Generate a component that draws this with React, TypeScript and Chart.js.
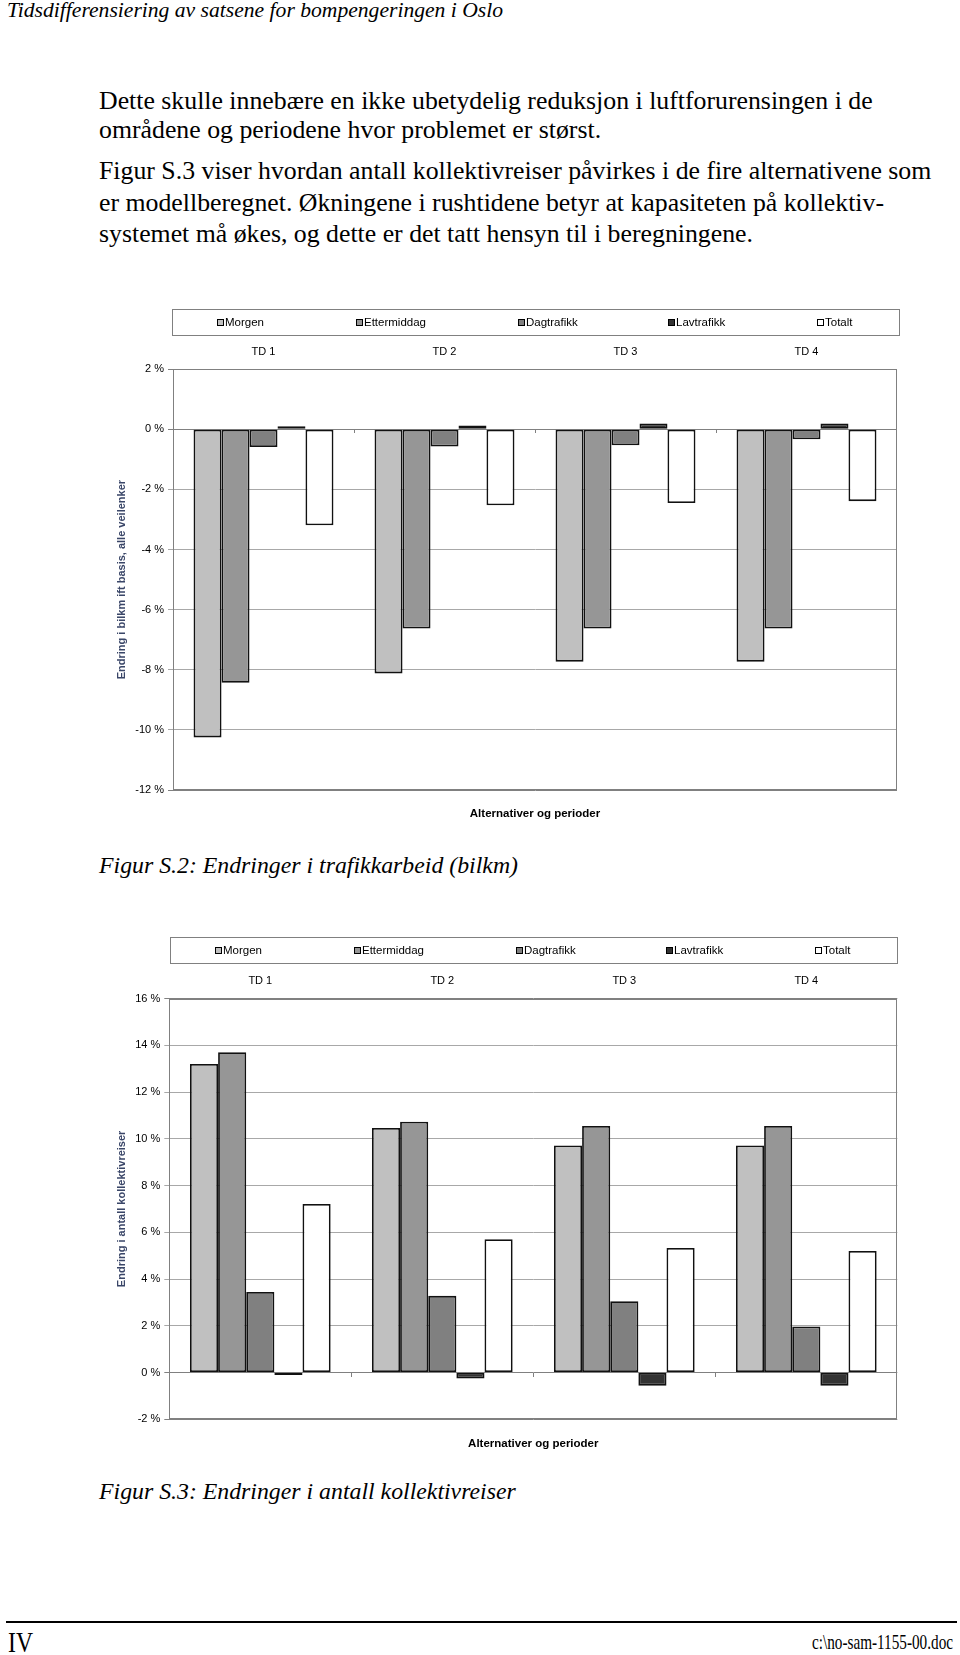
import React, { useEffect, useRef } from "react";
import { Chart, registerables } from "chart.js";

Chart.register(...registerables);

// ---------- data ----------
const seriesNames = ["Morgen", "Ettermiddag", "Dagtrafikk", "Lavtrafikk", "Totalt"];
const seriesColors = ["#c0c0c0", "#969696", "#808080", "#333333", "#ffffff"];
const categories = ["TD 1", "TD 2", "TD 3", "TD 4"];
const xAxisTitle = "Alternativer og perioder";

// Figur S.2: Endringer i trafikkarbeid (bilkm), %
const s2Morgen = [-10.25, -8.12, -7.73, -7.73];
const s2Ettermiddag = [-8.43, -6.63, -6.63, -6.63];
const s2Dagtrafikk = [-0.59, -0.57, -0.53, -0.33];
const s2Lavtrafikk = [0.1, 0.13, 0.19, 0.19];
const s2Totalt = [-3.19, -2.53, -2.45, -2.39];
const s2YTitle = "Endring i bilkm ift basis, alle veilenker";
const s2YMin = -12;
const s2YMax = 2;

// Figur S.3: Endringer i antall kollektivreiser, %
const s3Morgen = [13.2, 10.46, 9.71, 9.71];
const s3Ettermiddag = [13.7, 10.73, 10.55, 10.55];
const s3Dagtrafikk = [3.45, 3.28, 3.05, 1.97];
const s3Lavtrafikk = [-0.11, -0.26, -0.56, -0.56];
const s3Totalt = [7.21, 5.7, 5.33, 5.2];
const s3YTitle = "Endring i antall kollektivreiser";
const s3YMin = -2;
const s3YMax = 16;

const yStep = 2;

// ---------- layout ----------
const SANS = '"Liberation Sans", Arial, sans-serif';
const SERIF = '"Liberation Serif", "Times New Roman", serif';
const legendKeyOffsets = [45, 184, 345.5, 495.5, 644.5];

type Spec = {
  canvasTop: number;
  canvasHeight: number;
  plot: { left: number; top: number; right: number; bottom: number };
  legend: { left: number; top: number; right: number; bottom: number };
  tdY: number;
  xTitleY: number;
  yMin: number;
  yMax: number;
  yTitle: string;
  values: number[][];
};

const spec2: Spec = {
  canvasTop: 290,
  canvasHeight: 545,
  plot: { left: 173, top: 369.2, right: 897, bottom: 790 },
  legend: { left: 172, top: 308.5, right: 899, bottom: 335 },
  tdY: 352,
  xTitleY: 814,
  yMin: s2YMin,
  yMax: s2YMax,
  yTitle: s2YTitle,
  values: [s2Morgen, s2Ettermiddag, s2Dagtrafikk, s2Lavtrafikk, s2Totalt],
};

const spec3: Spec = {
  canvasTop: 920,
  canvasHeight: 545,
  plot: { left: 169.3, top: 998.5, right: 897.3, bottom: 1419.3 },
  legend: { left: 170, top: 937.3, right: 897, bottom: 963.3 },
  tdY: 981,
  xTitleY: 1444,
  yMin: s3YMin,
  yMax: s3YMax,
  yTitle: s3YTitle,
  values: [s3Morgen, s3Ettermiddag, s3Dagtrafikk, s3Lavtrafikk, s3Totalt],
};

function makeDecor(spec: Spec) {
  return {
    id: "decor",
    afterDraw(chart: any) {
      const ctx = chart.ctx as CanvasRenderingContext2D;
      const a = chart.chartArea;
      const xs = chart.scales.x;
      const ys = chart.scales.y;
      const off = spec.canvasTop;
      ctx.save();
      // plot area border
      ctx.strokeStyle = "#808080";
      ctx.lineWidth = 1;
      const L = Math.round(a.left) + 0.5;
      const R = Math.round(a.right) - 0.5;
      const T = Math.round(a.top) + 0.5;
      const B = Math.round(a.bottom) - 0.5;
      ctx.strokeRect(L, T, R - L, B - T);
      // category tick marks on the zero line
      const y0 = Math.round(ys.getPixelForValue(0));
      for (let k = 1; k < categories.length; k++) {
        const x = Math.round(a.left + ((a.right - a.left) * k) / categories.length) + 0.5;
        ctx.beginPath();
        ctx.moveTo(x, y0);
        ctx.lineTo(x, y0 + 4);
        ctx.stroke();
      }
      // category labels (top)
      ctx.fillStyle = "#000";
      ctx.font = `11px ${SANS}`;
      ctx.textAlign = "center";
      ctx.textBaseline = "middle";
      categories.forEach((c, i) => ctx.fillText(c, xs.getPixelForValue(i), spec.tdY - off));
      // x axis title
      ctx.font = `bold 11.5px ${SANS}`;
      ctx.fillText(xAxisTitle, (a.left + a.right) / 2, spec.xTitleY - off);
      // legend box
      const ll = Math.round(spec.legend.left);
      const lr = Math.round(spec.legend.right);
      const lt = Math.round(spec.legend.top - off);
      const lb = Math.round(spec.legend.bottom - off);
      ctx.fillStyle = "#fff";
      ctx.fillRect(ll, lt, lr - ll, lb - lt);
      ctx.strokeStyle = "#808080";
      ctx.strokeRect(ll + 0.5, lt + 0.5, lr - ll, lb - lt);
      const cy = (lt + lb) / 2 + 0.5;
      ctx.font = `11.5px ${SANS}`;
      ctx.textAlign = "left";
      chart.data.datasets.forEach((ds: any, i: number) => {
        const kx = Math.round(ll + legendKeyOffsets[i]);
        const ky = Math.round(cy - 4);
        ctx.fillStyle = ds.backgroundColor;
        ctx.fillRect(kx, ky, 7, 7);
        ctx.strokeStyle = "#000";
        ctx.strokeRect(kx + 0.5, ky + 0.5, 6, 6);
        ctx.fillStyle = "#000";
        ctx.fillText(ds.label, kx + 8, cy);
      });
      ctx.restore();
    },
  };
}

function BarChart({ spec }: { spec: Spec }) {
  const ref = useRef<HTMLCanvasElement>(null);
  useEffect(() => {
    const canvas = ref.current!;
    const titleFontSize = 11;
    const chart = new Chart(canvas, {
      type: "bar",
      data: {
        labels: categories,
        datasets: spec.values.map((v, i) => ({
          label: seriesNames[i],
          data: v,
          backgroundColor: seriesColors[i],
          borderColor: "#111",
          borderWidth: 1.8,
          borderSkipped: false,
          categoryPercentage: 0.773,
          barPercentage: 1,
        })),
      },
      options: {
        responsive: false,
        animation: false,
        devicePixelRatio: 1,
        layout: {
          padding: {
            left: 0,
            right: 960 - spec.plot.right,
            top: spec.plot.top - spec.canvasTop,
            bottom: spec.canvasTop + spec.canvasHeight - spec.plot.bottom,
          },
        },
        plugins: { legend: { display: false }, tooltip: { enabled: false }, title: { display: false } },
        scales: {
          x: {
            position: "top",
            grid: { display: false },
            border: { display: false },
            ticks: { display: false },
            afterFit: (s: any) => {
              s.height = 0;
            },
          },
          y: {
            min: spec.yMin,
            max: spec.yMax,
            ticks: {
              stepSize: yStep,
              callback: (v: any) => `${v} %`,
              color: "#000",
              font: { family: SANS, size: 11 },
              padding: 4,
            },
            grid: {
              color: (c: any) =>
                c.tick && (c.tick.value === 0 || c.tick.value === spec.yMin || c.tick.value === spec.yMax)
                  ? "#808080"
                  : "#a8a8a8",
              tickLength: 5,
              lineWidth: 1,
            },
            border: { color: "#808080", width: 1 },
            title: {
              display: true,
              text: spec.yTitle,
              color: "#3a4668",
              font: { family: SANS, size: titleFontSize, weight: "bold" },
              padding: { top: 122 - (titleFontSize * 1.2) / 2, bottom: 0 },
            },
            afterFit: (s: any) => {
              s.width = spec.plot.left;
            },
          },
        },
      } as any,
      plugins: [makeDecor(spec)],
    });
    return () => chart.destroy();
  }, [spec]);
  return (
    <canvas
      ref={ref}
      width={960}
      height={spec.canvasHeight}
      style={{ position: "absolute", left: 0, top: spec.canvasTop, width: 960, height: spec.canvasHeight }}
    />
  );
}

// ---------- text helpers ----------
const measurer = document.createElement("canvas").getContext("2d")!;
function measure(text: string, font: string, size: number) {
  measurer.font = font;
  const m = measurer.measureText(text) as any;
  const a = m.fontBoundingBoxAscent ?? size * 0.891;
  const d = m.fontBoundingBoxDescent ?? size * 0.216;
  return { w: m.width as number, a: a as number, d: d as number };
}
function fontOf(size: number, italic: boolean, bold: boolean, family: string) {
  return `${italic ? "italic " : ""}${bold ? "bold " : ""}${size}px ${family}`;
}
function scaleFor(text: string, size: number, italic: boolean, bold: boolean, family: string, width: number) {
  return width / measure(text, fontOf(size, italic, bold, family), size).w;
}

type LineProps = {
  text: string;
  x: number;
  baseline: number;
  size: number;
  italic?: boolean;
  bold?: boolean;
  family?: string;
  width?: number;
  scale?: number;
  align?: "left" | "right";
};
function Line({ text, x, baseline, size, italic = false, bold = false, family = SERIF, width, scale, align = "left" }: LineProps) {
  const m = measure(text, fontOf(size, italic, bold, family), size);
  const sx = scale ?? (width ? width / m.w : 1);
  const lh = Math.round(size * 1.6);
  const top = baseline - ((lh - (m.a + m.d)) / 2 + m.a);
  const left = align === "right" ? x - m.w * sx : x;
  return (
    <div
      style={{
        position: "absolute",
        left,
        top,
        fontFamily: family,
        fontSize: size,
        fontStyle: italic ? "italic" : "normal",
        fontWeight: bold ? "bold" : "normal",
        lineHeight: `${lh}px`,
        whiteSpace: "pre",
        transform: `scaleX(${sx})`,
        transformOrigin: "0 0",
        color: "#000",
      }}
    >
      {text}
    </div>
  );
}

const bodyLines = [
  { text: "Dette skulle innebære en ikke ubetydelig reduksjon i luftforurensingen i de", baseline: 109 },
  { text: "områdene og periodene hvor problemet er størst.", baseline: 138 },
  { text: "Figur S.3 viser hvordan antall kollektivreiser påvirkes i de fire alternativene som", baseline: 179.5 },
  { text: "er modellberegnet. Økningene i rushtidene betyr at kapasiteten på kollektiv-", baseline: 211 },
  { text: "systemet må økes, og dette er det tatt hensyn til i beregningene.", baseline: 242.5 },
];

export default function App() {
  const bodySize = 26;
  const bodyScale =
    (scaleFor(bodyLines[0].text, bodySize, false, false, SERIF, 773) +
      scaleFor(bodyLines[2].text, bodySize, false, false, SERIF, 833)) /
    2;
  const capSize = 24;
  const capScale = scaleFor("Figur S.2: Endringer i trafikkarbeid (bilkm)", capSize, true, false, SERIF, 419);
  return (
    <div
      style={{
        position: "absolute",
        left: 0,
        top: 0,
        width: 960,
        height: 1655,
        overflow: "hidden",
        background: "#fff",
      }}
    >
      <Line
        text="Tidsdifferensiering av satsene for bompengeringen i Oslo"
        x={7}
        baseline={16.5}
        size={21.5}
        italic
        width={496}
      />
      {bodyLines.map((l, i) => (
        <Line key={i} text={l.text} x={99} baseline={l.baseline} size={bodySize} scale={bodyScale} />
      ))}
      <BarChart spec={spec2} />
      <Line text="Figur S.2: Endringer i trafikkarbeid (bilkm)" x={99} baseline={873} size={capSize} italic scale={capScale} />
      <BarChart spec={spec3} />
      <Line text="Figur S.3: Endringer i antall kollektivreiser" x={99} baseline={1498.5} size={capSize} italic scale={capScale} />
      <div style={{ position: "absolute", left: 6, top: 1621, width: 951, height: 2, background: "#000" }} />
      <Line text="IV" x={8} baseline={1652} size={30} width={25} />
      <Line text="c:\no-sam-1155-00.doc" x={953} baseline={1649} size={21} width={141} align="right" />
    </div>
  );
}
